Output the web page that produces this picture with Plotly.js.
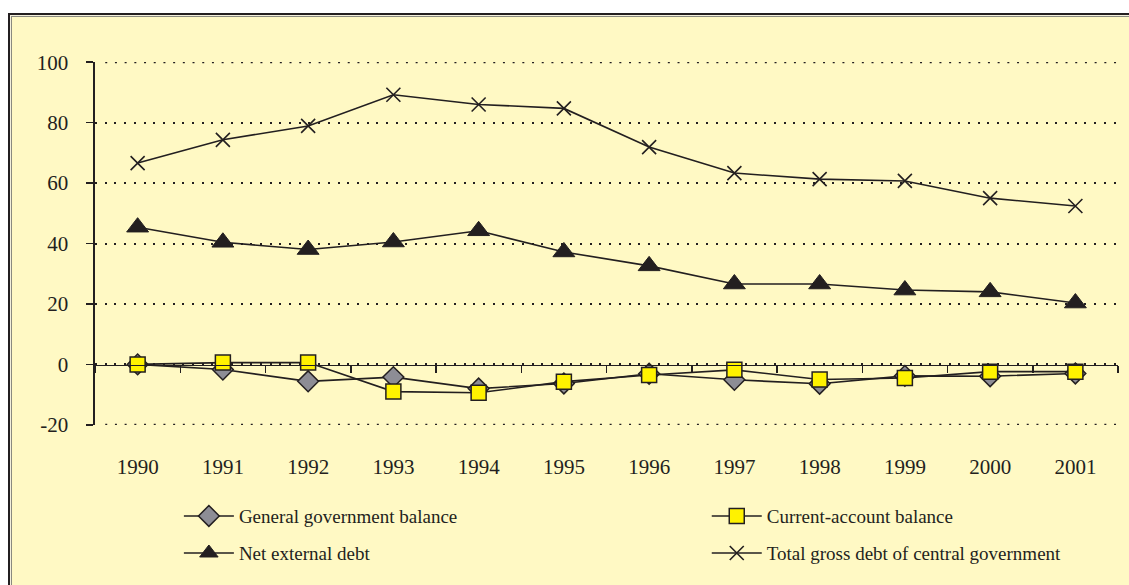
<!DOCTYPE html>
<html>
<head>
<meta charset="utf-8">
<script src="https://cdn.plot.ly/plotly-3.0.1.min.js"></script>
<style>
  html, body { margin: 0; padding: 0; background: #ffffff; overflow: hidden; }
  #frame {
    position: absolute; left: 8px; top: 13px; width: 1140px; height: 600px;
    background: #fff9c4; border: 2px solid #231f20;
    box-shadow: inset 0 0 0 1px #f4f0dc, inset 0 0 0 2px #8a8a80;
  }
  #chart { position: absolute; left: 0; top: 0; width: 1129px; height: 585px; }
</style>
</head>
<body>
<div id="frame"></div>
<div id="chart"></div>
<script>
const years = ['1990','1991','1992','1993','1994','1995','1996','1997','1998','1999','2000','2001'];
const generalGovBalance = [0, -1.7, -5.6, -4.2, -8.0, -6.3, -3.1, -5.1, -6.4, -3.8, -3.9, -3.0];
const currentAccount   = [0, 0.6, 0.6, -9.0, -9.4, -5.7, -3.5, -1.8, -5.0, -4.5, -2.4, -2.4];
const netExternalDebt  = [45.4, 40.4, 38.0, 40.5, 44.2, 37.2, 32.6, 26.6, 26.6, 24.6, 24.0, 20.3];
const totalGrossDebt   = [66.6, 74.3, 78.9, 89.2, 86.0, 84.7, 71.9, 63.3, 61.3, 60.7, 55.0, 52.4];
const seriesNames = ['General government balance', 'Current-account balance', 'Net external debt', 'Total gross debt of central government'];
const yTicks = [-20, 0, 20, 40, 60, 80, 100];
const yTickLabels = ['-20', '0', '20', '40', '60', '80', '100'];
const yRange = [-20, 100];

const ink = '#231f20';
const serif = 'Liberation Serif, Times New Roman, serif';
const dotDash = '2px,7.7px';

const traces = [
  { x: years, y: totalGrossDebt, name: seriesNames[3], legend: 'legend4', type: 'scatter', mode: 'lines+markers',
    xaxis: 'x', yaxis: 'y',
    line: { color: ink, width: 1.6 },
    marker: { symbol: 'x-thin', size: 14, line: { color: ink, width: 1.6 } } },
  { x: years, y: netExternalDebt, name: seriesNames[2], legend: 'legend3', type: 'scatter', mode: 'lines+markers',
    xaxis: 'x', yaxis: 'y',
    line: { color: ink, width: 1.6 },
    marker: { symbol: 'triangle-up', size: 19, color: ink, line: { color: ink, width: 1 } } },
  { x: years, y: generalGovBalance, name: seriesNames[0], legend: 'legend', type: 'scatter', mode: 'lines+markers',
    xaxis: 'x2', yaxis: 'y',
    line: { color: ink, width: 1.6 },
    marker: { symbol: 'diamond', size: 16, color: '#8d8d95', line: { color: ink, width: 1.5 } } },
  { x: years, y: currentAccount, name: seriesNames[1], legend: 'legend2', type: 'scatter', mode: 'lines+markers',
    xaxis: 'x2', yaxis: 'y',
    line: { color: ink, width: 1.6 },
    marker: { symbol: 'square', size: 15, color: '#fff200', line: { color: ink, width: 1.5 } } }
];

const legendBase = { bgcolor: 'rgba(0,0,0,0)', borderwidth: 0, xanchor: 'left', yanchor: 'middle',
  font: { family: serif, size: 19, color: ink }, orientation: 'v', itemwidth: 50 };

// dotted edge gridlines (Plotly hides gridlines at the range ends)
const edgeGrid = [yRange[0], yRange[1]].map(v => ({
  type: 'line', xref: 'paper', yref: 'y', x0: 0.01, x1: 1, y0: v, y1: v,
  line: { color: ink, width: 2, dash: dotDash }, layer: 'below'
}));

const layout = {
  width: 1129, height: 585,
  margin: { l: 95, r: 11, t: 62, b: 160 },
  paper_bgcolor: 'rgba(0,0,0,0)', plot_bgcolor: 'rgba(0,0,0,0)',
  font: { family: serif, color: ink },
  showlegend: true,
  legend:  Object.assign({}, legendBase, { x: 0.082, y: -0.251 }),
  legend2: Object.assign({}, legendBase, { x: 0.598, y: -0.251 }),
  legend3: Object.assign({}, legendBase, { x: 0.082, y: -0.353 }),
  legend4: Object.assign({}, legendBase, { x: 0.598, y: -0.353 }),
  shapes: edgeGrid,
  xaxis: {
    type: 'category', categoryorder: 'array', categoryarray: years,
    range: [-0.5, years.length - 0.5],
    anchor: 'y', side: 'bottom',
    ticks: '', showline: false, showgrid: false, zeroline: false,
    ticklabelstandoff: 27,
    tickfont: { family: serif, size: 21, color: ink }
  },
  xaxis2: {
    type: 'category', categoryorder: 'array', categoryarray: years,
    range: [-0.5, years.length - 0.5],
    overlaying: 'x',
    anchor: 'free', position: -yRange[0] / (yRange[1] - yRange[0]),
    showline: true, linecolor: ink, linewidth: 1.6,
    ticks: 'outside', tickson: 'boundaries', ticklen: 7, tickwidth: 1.5, tickcolor: ink,
    showticklabels: false, showgrid: false, zeroline: false
  },
  yaxis: {
    range: [yRange[0] - 0.05, yRange[1] + 0.05],
    tickmode: 'array', tickvals: yTicks, ticktext: yTickLabels,
    showline: true, linecolor: ink, linewidth: 1.6,
    ticks: 'outside', ticklen: 7, tickwidth: 1.5, tickcolor: ink,
    ticklabelstandoff: 14,
    tickfont: { family: serif, size: 21, color: ink },
    showgrid: true, gridcolor: ink, gridwidth: 2, griddash: dotDash,
    zeroline: false
  }
};

Plotly.newPlot('chart', traces, layout, { displayModeBar: false, staticPlot: true });
</script>
</body>
</html>
